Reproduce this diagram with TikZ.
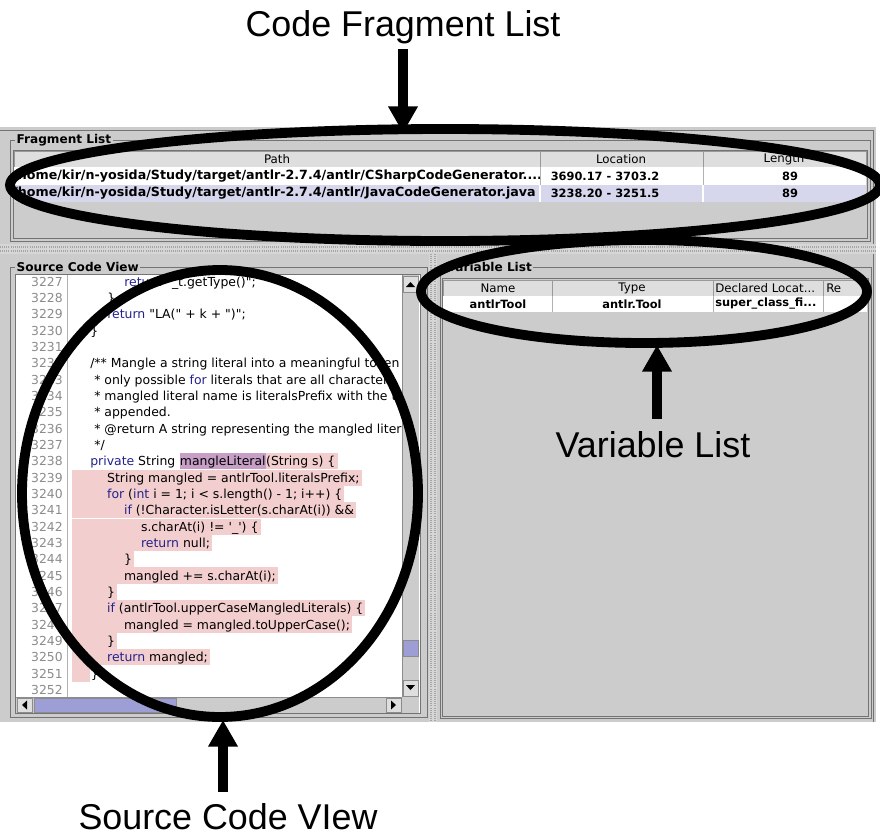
\documentclass[tikz,border=0pt]{standalone}
\usepackage{fontspec}
\setmainfont{Liberation Sans}
\newfontfamily\uifont{DejaVu Sans}
\usetikzlibrary{arrows.meta}
\definecolor{panelgray}{RGB}{204,204,204}
\definecolor{headgray}{RGB}{222,222,222}
\definecolor{selrow}{RGB}{214,214,236}
\definecolor{thumbblue}{RGB}{158,158,214}
\definecolor{splitgray}{RGB}{214,214,214}
\definecolor{pinkhl}{RGB}{243,206,206}
\definecolor{purplehl}{RGB}{198,158,198}
\definecolor{kwblue}{RGB}{34,34,140}
\definecolor{numgray}{RGB}{140,140,140}
\newcommand\kw[1]{\textcolor{kwblue}{#1}}
\tikzset{
  callout/.style={font=\fontsize{25.5}{30}\selectfont,inner sep=4pt,anchor=base},
  pointer/.style={line width=7pt,-{Triangle[length=19pt,width=20pt]}},
  ring/.style={line width=7pt},
  etched/.style={draw=black!55,line width=0.6pt},
  paneltitle/.style={font=\uifont\bfseries\fontsize{8.6}{10}\selectfont,fill=panelgray,inner xsep=1pt,inner ysep=0pt,anchor=west},
  headcell/.style={fill=headgray,draw=black!40,line width=0.5pt},
  uitext/.style={font=\uifont\fontsize{8.4}{10}\selectfont,inner sep=0pt},
  uibold/.style={font=\uifont\bfseries\fontsize{8.1}{10}\selectfont,inner sep=0pt},
  pathtext/.style={font=\uifont\bfseries\fontsize{9}{10}\selectfont,inner sep=0pt,anchor=west},
  code/.style={font=\uifont\fontsize{8.85}{10}\selectfont,inner sep=0pt,anchor=base west,text height=8.9pt,text depth=2.65pt},
  hl/.style={code,fill=pinkhl},
  linenum/.style={font=\uifont\fontsize{8.8}{10}\selectfont,text=numgray,inner sep=0pt,anchor=base east},
  arrowbtn/.style={fill=headgray,draw=black!45,line width=0.5pt},
}
\begin{document}
\begin{tikzpicture}[x=0.025cm,y=-0.025cm]
            \useasboundingbox (0,0) rectangle (880,836);
            \fill[white] (0,0) rectangle (880,836);
            \fill[panelgray] (0,127) rectangle (876,722);
            \draw[black!55,line width=0.6pt] (0,130) -- (873,130) -- (873,722);
            \draw[etched] (10,140) rectangle (870,241);
            \node[paneltitle] (fragtitle) at (15,140) {Fragment List};
            \draw[etched,fill=panelgray] (13,150) rectangle (867,238);
            \draw[headcell] (14,151) rectangle (540,167);
            \draw[headcell] (540,151) rectangle (703,167);
            \draw[headcell] (703,151) rectangle (866,167);
            \fill[white] (14,167) rectangle (866,185);
            \fill[selrow] (14,185) rectangle (866,202);
            \draw[black!30,line width=0.5pt] (540,167) -- (540,185) (703,167) -- (703,185);
            \draw[white,line width=0.8pt] (540,185) -- (540,202) (703,185) -- (703,202);
            \node[uitext] (hpath) at (277,159) {Path};
            \node[uitext] (hloc) at (621,159) {Location};
            \node[uitext] (hlen) at (784,159) {Length};
            \begin{scope}
                \clip (14,167) rectangle (539,202);
                \node[pathtext] (path1) at (13,176) {/home/kir/n-yosida/Study/target/antlr-2.7.4/antlr/CSharpCodeGenerator....};
                \node[pathtext] (path2) at (13,193.5) {/home/kir/n-yosida/Study/target/antlr-2.7.4/antlr/JavaCodeGenerator.java};
            \end{scope}
            \node[uibold] (loc1) at (605,176) {3690.17 - 3703.2};
            \node[uibold] (loc2) at (605,193.5) {3238.20 - 3251.5};
            \node[uibold] (len1) at (790,176) {89};
            \node[uibold] (len2) at (790,193.5) {89};
            \fill[splitgray] (0,244) rectangle (876,254);
            \draw[black!35,line width=0.8pt,dash pattern=on 0.6pt off 0.9pt] (0,247) -- (876,247) (0,251) -- (876,251);
            \draw[etched] (10,267) rectangle (427,717);
            \node[paneltitle] (srctitle) at (15,267) {Source Code View};
            \draw[etched,fill=white] (15,274) rectangle (420,713);
            \draw[black!30] (67,275) -- (67,697);
            \begin{scope}
                \clip (16,275) rectangle (402,697);
                \foreach \n [count=\k from 0] in {3227,...,3252}
                    \node[linenum] (n\n) at (63,{286.1+16.33*\k}) {\n};
                \node[code] (c3227) at (124,286.1) {\kw{return} "\_t.getType()";};
                \node[code] (c3228) at (107,302.4) {\}};
                \node[code] (c3229) at (107,318.8) {\kw{return} "LA(" + k + ")";};
                \node[code] (c3230) at (90,335.1) {\}};
                \node[code] (c3232) at (90,367.8) {/** Mangle a string literal into a meaningful token name.  This is};
                \node[code] (c3233) at (94,384.1) {* only possible \kw{for} literals that are all characters.  The resulting};
                \node[code] (c3234) at (94,400.4) {* mangled literal name is literalsPrefix with the text of the literal};
                \node[code] (c3235) at (94,416.7) {* appended.};
                \node[code] (c3236) at (94,433.1) {* @return A string representing the mangled literal, or null if not possible.};
                \node[code] (c3237) at (94,449.4) {*/};
                \node[code] (c3238a) at (90,465.7) {\kw{private} String\ \mbox{}};
                \node[code,fill=purplehl] (c3238b) at (c3238a.base east) {mangleLiteral};
                \node[hl] (c3238c) at (c3238b.base east) {(String s) \{\hspace{1.5pt}\mbox{}};
                \node[hl] (c3239) at (72,482.1) {\hspace{24.8pt}String mangled = antlrTool.literalsPrefix;\hspace{1.5pt}\mbox{}};
                \node[hl] (c3240) at (72,498.4) {\hspace{24.8pt}\kw{for} (\kw{int} i = 1; i < s.length() - 1; i++) \{\hspace{1.5pt}\mbox{}};
                \node[hl] (c3241) at (72,514.7) {\hspace{36.85pt}\kw{if} (!Character.isLetter(s.charAt(i)) \&\&\hspace{1.5pt}\mbox{}};
                \node[hl] (c3242) at (72,531.1) {\hspace{48.9pt}s.charAt(i) != \textquotesingle\_\textquotesingle) \{\hspace{1.5pt}\mbox{}};
                \node[hl] (c3243) at (72,547.4) {\hspace{48.9pt}\kw{return} null;\hspace{1.5pt}\mbox{}};
                \node[hl] (c3244) at (72,563.7) {\hspace{36.85pt}\}\hspace{1.5pt}\mbox{}};
                \node[hl] (c3245) at (72,580.0) {\hspace{36.85pt}mangled += s.charAt(i);\hspace{1.5pt}\mbox{}};
                \node[hl] (c3246) at (72,596.4) {\hspace{24.8pt}\}\hspace{1.5pt}\mbox{}};
                \node[hl] (c3247) at (72,612.7) {\hspace{24.8pt}\kw{if} (antlrTool.upperCaseMangledLiterals) \{\hspace{1.5pt}\mbox{}};
                \node[hl] (c3248) at (72,629.0) {\hspace{36.85pt}mangled = mangled.toUpperCase();\hspace{1.5pt}\mbox{}};
                \node[hl] (c3249) at (72,645.4) {\hspace{24.8pt}\}\hspace{1.5pt}\mbox{}};
                \node[hl] (c3250) at (72,661.7) {\hspace{24.8pt}\kw{return} mangled;\hspace{1.5pt}\mbox{}};
                \node[hl] (c3251a) at (72,678.0) {\hspace{12.76pt}\mbox{}};
                \node[code] (c3251b) at (c3251a.base east) {\}};
            \end{scope}
            \fill[panelgray] (402,275) rectangle (419,697);
            \draw[black!45] (402,275) -- (402,713);
            \draw[arrowbtn] (403,276) rectangle (418,292);
            \fill (406,287) -- (415,287) -- (410.5,282) -- cycle;
            \draw[arrowbtn] (403,680) rectangle (418,696);
            \fill (406,685) -- (415,685) -- (410.5,690) -- cycle;
            \draw[black!45,fill=thumbblue] (403,640) rectangle (418,656);
            \fill[panelgray] (16,697) rectangle (419,712.5);
            \draw[black!45] (16,697) -- (402,697);
            \draw[arrowbtn] (17,698) rectangle (32,712);
            \fill (27,700.5) -- (27,709.5) -- (22,705) -- cycle;
            \draw[arrowbtn] (386,698) rectangle (401,712);
            \fill (391,700.5) -- (391,709.5) -- (396,705) -- cycle;
            \draw[black!45,fill=thumbblue] (34,698) rectangle (176,712);
            \fill[splitgray] (429,254) rectangle (437,722);
            \draw[black!35,line width=0.8pt,dash pattern=on 0.6pt off 0.9pt] (431,254) -- (431,722) (435,254) -- (435,722);
            \draw[etched] (440,267) rectangle (871,718);
            \node[paneltitle] (vartitle) at (445,267) {Variable List};
            \draw[etched,fill=panelgray] (442,278) rectangle (868,716);
            \draw[headcell] (443,280) rectangle (552,296);
            \draw[headcell] (552,280) rectangle (713,296);
            \draw[headcell] (713,280) rectangle (823,296);
            \draw[headcell] (823,280) rectangle (867,296);
            \fill[white] (443,296) rectangle (867,312);
            \draw[black!30,line width=0.5pt] (552,296) -- (552,312) (713,296) -- (713,312) (823,296) -- (823,312);
            \node[uitext] (hname) at (498,288) {Name};
            \node[uitext] (htype) at (632,288) {Type};
            \node[uitext,anchor=west] (hdecl) at (715,288) {Declared Locat...};
            \node[uitext,anchor=west] (href) at (826,288) {Re};
            \node[uibold] (vname) at (498,304) {antlrTool};
            \node[uibold] (vtype) at (632,304) {antlr.Tool};
            \node[uibold,anchor=west] (vdecl) at (715,304) {super\_class\_fi...};
            \draw[ring] (445,185) ellipse [x radius=435,y radius=56];
            \draw[ring] (644,291.5) ellipse [x radius=223,y radius=51.5];
            \draw[ring] (220,493.5) ellipse [x radius=198,y radius=223.5];
            \node[callout] (cfl) at (403,36) {Code Fragment List};
            \node[callout,inner ysep=8.5pt] (vl) at (653,457) {Variable List};
            \node[callout,inner ysep=8pt] (scv) at (228,829) {Source Code VIew};
            \coordinate (fragtip) at (403,133);
            \coordinate (vartip) at (657,345);
            \coordinate (srctip) at (223,720);
            \draw[pointer] (cfl.south) -- (fragtip);
            \draw[pointer] (vl.north -| vartip) -- (vartip);
            \draw[pointer] (scv.north -| srctip) -- (srctip);
        \end{tikzpicture}
\end{document}
